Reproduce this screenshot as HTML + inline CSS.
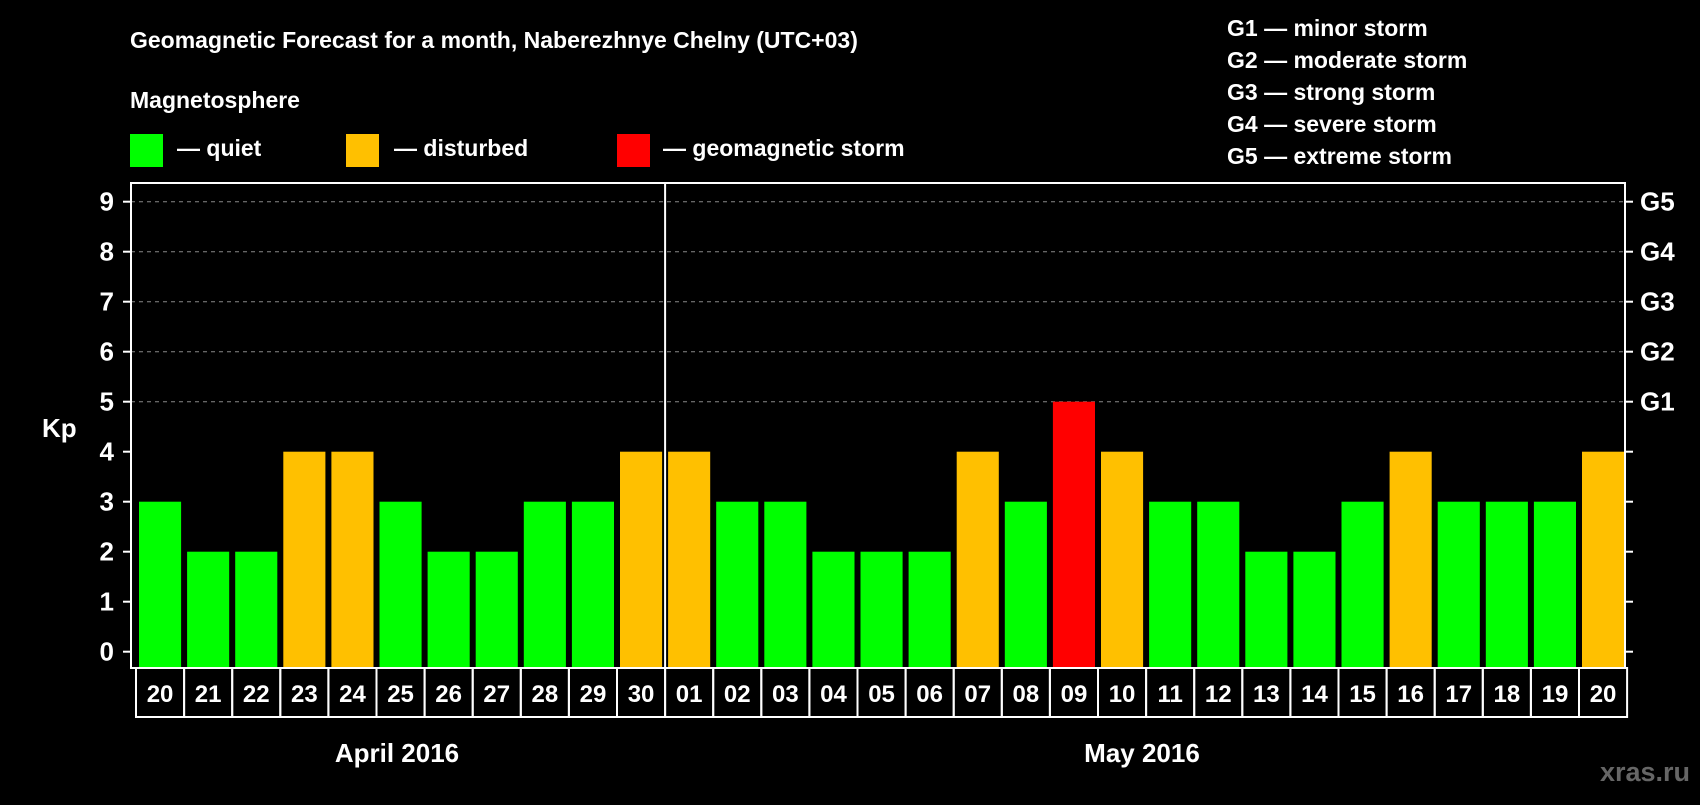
<!DOCTYPE html>
<html><head><meta charset="utf-8"><style>
body{margin:0;background:#000;width:1700px;height:800px;overflow:hidden;font-family:"Liberation Sans",Arial,sans-serif}
svg text{font-family:"Liberation Sans",Arial,sans-serif;font-weight:bold;fill:#fff}
</style></head><body>
<svg id="chart" width="1700" height="800" xmlns="http://www.w3.org/2000/svg">
<text x="130" y="48" font-size="23">Geomagnetic Forecast for a month, Naberezhnye Chelny (UTC+03)</text>
<text x="130" y="108" font-size="23">Magnetosphere</text>
<rect x="130" y="134" width="33" height="33" fill="#00ff00"/>
<text x="177" y="156" font-size="23">— quiet</text>
<rect x="346" y="134" width="33" height="33" fill="#ffc000"/>
<text x="394" y="156" font-size="23">— disturbed</text>
<rect x="617" y="134" width="33" height="33" fill="#ff0000"/>
<text x="663" y="156" font-size="23">— geomagnetic storm</text>
<g font-size="23">
<text x="1227" y="36">G1 — minor storm</text>
<text x="1227" y="68">G2 — moderate storm</text>
<text x="1227" y="100">G3 — strong storm</text>
<text x="1227" y="132">G4 — severe storm</text>
<text x="1227" y="164">G5 — extreme storm</text>
</g>
<text x="42" y="437" font-size="26">Kp</text>
<g id="grid"></g><g id="bars"></g><g id="axes"></g>
<text x="397" y="762" font-size="26" text-anchor="middle">April 2016</text>
<text x="1142" y="762" font-size="26" text-anchor="middle">May 2016</text>
<text x="1690" y="781" font-size="27" text-anchor="end" style="fill:#666">xras.ru</text>
</svg>
<script>
const days=["20","21","22","23","24","25","26","27","28","29","30","01","02","03","04","05","06","07","08","09","10","11","12","13","14","15","16","17","18","19","20"];
const kp=[3,2,2,4,4,3,2,2,3,3,4,4,3,3,2,2,2,4,3,5,4,3,3,2,2,3,4,3,3,3,4];
const yTicks=[0,1,2,3,4,5,6,7,8,9];
const gLabels=["","","","","","G1","G2","G3","G4","G5"];
const NS="http://www.w3.org/2000/svg";
const L=131,R=1625,T=183,B=668,cx0=136,cw=48.1;
const y=v=>651.7-v*50;
const x=i=>cx0+i*cw;
function mk(t,a,p){const e=document.createElementNS(NS,t);for(const k in a)e.setAttribute(k,a[k]);p.appendChild(e);return e;}
const grid=document.getElementById('grid'),bars=document.getElementById('bars'),axes=document.getElementById('axes');
yTicks.forEach((v,i)=>{
 if(v>=5){const g=mk('line',{x1:L,x2:R,y1:y(v),y2:y(v),stroke:'#888','stroke-width':1,'stroke-dasharray':'4,4'},grid);
 
 }
 const t1=mk('line',{x1:123,x2:L,y1:y(v),y2:y(v),stroke:'#fff','stroke-width':2},axes);
 
 
 const t2=mk('line',{x1:R,x2:1633,y1:y(v),y2:y(v),stroke:'#fff','stroke-width':2},axes);
 
 
 const tl=mk('text',{x:114,y:y(v)+9,'font-size':26,'text-anchor':'end'},axes);tl.textContent=v;
 
 
 if(gLabels[i]){const gl=mk('text',{x:1640,y:y(v)+9,'font-size':26},axes);gl.textContent=gLabels[i];
 
 }
});
kp.forEach((v,i)=>{
 const c=v>=5?'#ff0000':v>=4?'#ffc000':'#00ff00';
 const b=mk('rect',{x:x(i)+3,y:y(v),width:cw-6,height:B-y(v),fill:c},bars);
 
 
 const cell=mk('rect',{x:x(i),y:B,width:cw,height:49,fill:'none',stroke:'#fff','stroke-width':2},axes);
 
 
 const dl=mk('text',{x:x(i)+cw/2,y:B+34,'font-size':24,'text-anchor':'middle'},axes);dl.textContent=days[i];
 
 
});
const fr=mk('rect',{x:L,y:T,width:R-L,height:B-T,fill:'none',stroke:'#fff','stroke-width':2},axes);


const sep=mk('line',{x1:x(11),x2:x(11),y1:T,y2:B,stroke:'#fff','stroke-width':2},axes);


</script>
</body></html>
